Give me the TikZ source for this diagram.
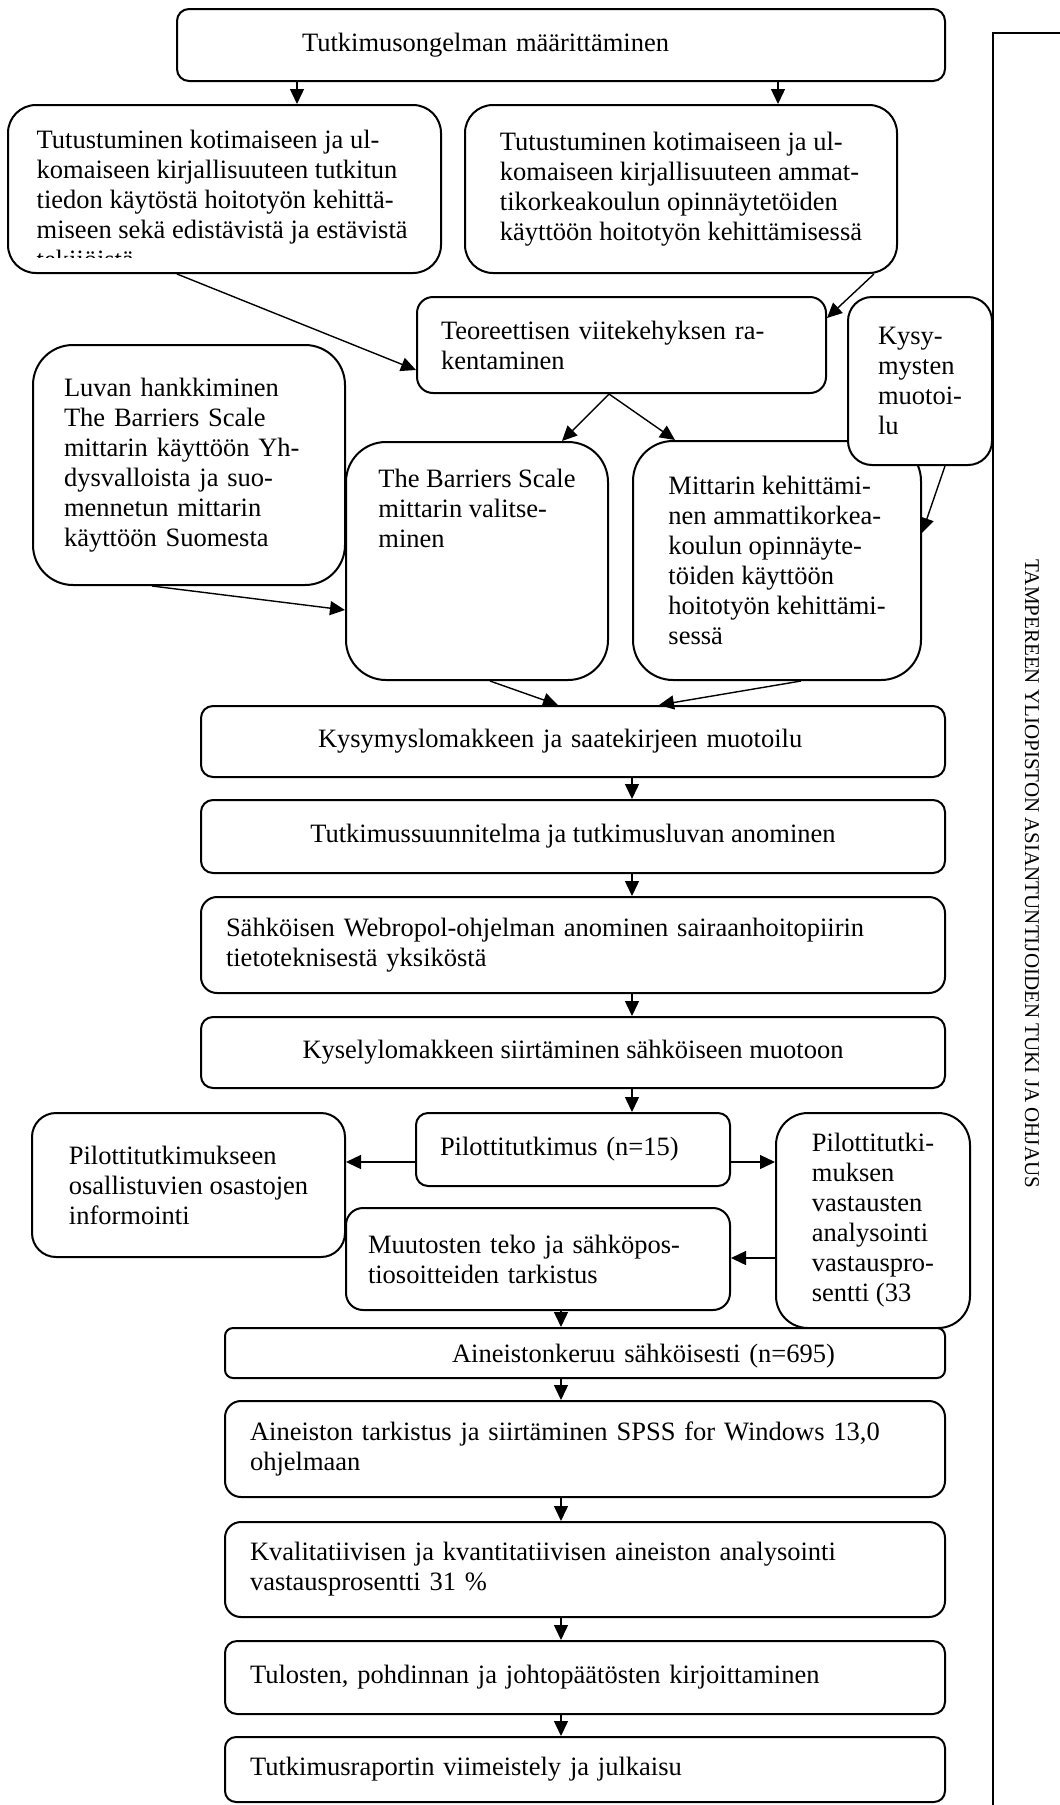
\documentclass[tikz,border=0pt]{standalone}
\usepackage{fontspec}
\setmainfont{Liberation Serif}
\usetikzlibrary{arrows.meta}

\begin{document}
\begin{tikzpicture}[x=1pt, y=-1pt,
    box/.style={draw, line width=2pt, fill=white, inner sep=0pt, align=left,
      font=\fontsize{26.5}{30}\selectfont},
    arr/.style={line width=1.4pt, -{Triangle[length=15pt,width=14pt]}}]
  \useasboundingbox (0,0) rectangle (1060,1805);

  % frame with the side text
  \draw[line width=2pt] (1075,33) -- (993,33) -- (993,1820);
  \node[rotate=-90, font=\fontsize{21}{25}\selectfont] (tuki) at (1032,874)
    {TAMPEREEN YLIOPISTON ASIANTUNTIJOIDEN TUKI JA OHJAUS};

  % upper part
  \node[box, rounded corners=12pt, minimum width=768pt, minimum height=72pt, text width=518pt] (prob) at (561,45) {Tutkimusongelman määrittäminen};
  \node[box, rounded corners=28pt, minimum width=433pt, minimum height=168pt] (litA) at (224.5,189) {};
  \begin{scope}
    \clip (8,105) rectangle (441,257);
    \node[anchor=north west, inner sep=0pt, align=left, font=\fontsize{26.5}{30}\selectfont] (litAtxt) at (36.5,130)
      {Tutustuminen kotimaiseen ja ul-\\komaiseen kirjallisuuteen tutkitun\\tiedon käytöstä hoitotyön kehittä-\\miseen sekä edistävistä ja estävistä\\tekijöistä};
  \end{scope}
  \node[box, rounded corners=28pt, minimum width=432pt, minimum height=168pt] (litB) at (681,189)
    {Tutustuminen kotimaiseen ja ul-\\komaiseen kirjallisuuteen ammat-\\tikorkeakoulun opinnäytetöiden\\käyttöön hoitotyön kehittämisessä};
  \node[box, rounded corners=16pt, minimum width=409pt, minimum height=96pt, text width=361pt] (teoria) at (621.5,345)
    {Teoreettisen viitekehyksen ra-\\kentaminen};
  \node[box, rounded corners=40pt, minimum width=312pt, minimum height=240pt, text width=250pt] (luvan) at (189,465)
    {Luvan hankkiminen\\The Barriers Scale\\mittarin käyttöön Yh-\\dysvalloista ja suo-\\mennetun mittarin\\käyttöön Suomesta};
  \node[box, rounded corners=40pt, minimum width=262pt, minimum height=238pt] (barr) at (477,561)
    {The Barriers Scale\\mittarin valitse-\\minen\\[66pt]\strut};
  \node[box, rounded corners=40pt, minimum width=288pt, minimum height=239pt] (mitt) at (777,560.5)
    {Mittarin kehittämi-\\nen ammattikorkea-\\koulun opinnäyte-\\töiden käyttöön\\hoitotyön kehittämi-\\sessä};
  \node[box, rounded corners=24pt, minimum width=144pt, minimum height=168pt] (kysym) at (920,381)
    {Kysy-\\mysten\\muotoi-\\lu};

  % main column
  \node[box, rounded corners=12pt, minimum width=744pt, minimum height=71pt, text width=510pt] (kyslom) at (573,741.5) {Kysymyslomakkeen ja saatekirjeen muotoilu};
  \node[box, rounded corners=12pt, minimum width=744pt, minimum height=73pt] (suunn) at (573,836.5) {Tutkimussuunnitelma ja tutkimusluvan anominen};
  \node[box, rounded corners=16pt, minimum width=744pt, minimum height=96pt, text width=694pt] (sahk) at (573,945)
    {Sähköisen Webropol-ohjelman anominen sairaanhoitopiirin\\tietoteknisestä yksiköstä};
  \node[box, rounded corners=12pt, minimum width=744pt, minimum height=71pt] (kysel) at (573,1052.5) {Kyselylomakkeen siirtäminen sähköiseen muotoon};

  % pilot
  \node[box, rounded corners=12pt, minimum width=314pt, minimum height=73pt, text width=266pt] (pilot) at (573,1149.5) {Pilottitutkimus (n=15)};
  \node[box, rounded corners=24pt, minimum width=313pt, minimum height=144pt] (info) at (188.5,1185)
    {Pilottitutkimukseen\\osallistuvien osastojen\\informointi};
  \node[box, rounded corners=17pt, minimum width=384pt, minimum height=102pt, text width=340pt] (muut) at (538,1259)
    {Muutosten teko ja sähköpos-\\tiosoitteiden tarkistus};
  \node[box, rounded corners=32pt, minimum width=194pt, minimum height=215pt] (anal) at (873,1220.5)
    {Pilottitutki-\\muksen\\vastausten\\analysointi\\vastauspro-\\sentti (33};

  % data part
  \node[box, rounded corners=8pt, minimum width=720pt, minimum height=50pt, text width=500pt, text depth=0pt, align=right] (keruu) at (585,1353) {Aineistonkeruu sähköisesti (n=695)};
  \node[box, rounded corners=16pt, minimum width=720pt, minimum height=96pt, text width=670pt] (tark) at (585,1449)
    {Aineiston tarkistus ja siirtäminen SPSS for Windows 13,0\\ohjelmaan};
  \node[box, rounded corners=16pt, minimum width=720pt, minimum height=95pt, text width=670pt] (kval) at (585,1569.5)
    {Kvalitatiivisen ja kvantitatiivisen aineiston analysointi\\vastausprosentti 31 \%};
  \node[box, rounded corners=12pt, minimum width=720pt, minimum height=73pt, text width=670pt] (tulos) at (585,1677.5) {Tulosten, pohdinnan ja johtopäätösten kirjoittaminen};
  \node[box, rounded corners=11pt, minimum width=720pt, minimum height=65pt, text width=670pt] (rap) at (585,1769.5) {Tutkimusraportin viimeistely ja julkaisu};

  % arrows
  \draw[arr] (prob.south -| 297,0) -- (litA.north -| 297,0);
  \draw[arr] (prob.south -| 778,0) -- (litB.north -| 778,0);
  \draw[arr] (litA.south -| 177,0) -- (teoria.west |- 0,370);
  \draw[arr] (litB.south -| 874,0) -- (teoria.east |- 0,318);
  \draw[arr] (teoria.south -| 609,0) -- (barr.north -| 562,0);
  \draw[arr] (teoria.south -| 609,0) -- (mitt.north -| 675,0);
  \draw[arr] (kysym.south -| 945,0) -- (mitt.east |- 0,533);
  \draw[arr] (luvan.south -| 152,0) -- (barr.west |- 0,610);
  \draw[arr] (barr.south -| 490,0) -- (kyslom.north -| 558,0);
  \draw[arr] (mitt.south -| 801,0) -- (kyslom.north -| 659,0);
  \draw[arr] (kyslom.south -| 632,0) -- (suunn.north -| 632,0);
  \draw[arr] (suunn.south -| 632,0) -- (sahk.north -| 632,0);
  \draw[arr] (sahk.south -| 632,0) -- (kysel.north -| 632,0);
  \draw[arr] (kysel.south -| 632,0) -- (pilot.north -| 632,0);
  \draw[arr] (pilot.west |- 0,1162) -- (info.east |- 0,1162);
  \draw[arr] (pilot.east |- 0,1162) -- (anal.west |- 0,1162);
  \draw[arr] (anal.west |- 0,1258) -- (muut.east |- 0,1258);
  \draw[arr] (muut.south -| 561,0) -- (keruu.north -| 561,0);
  \draw[arr] (keruu.south -| 561,0) -- (tark.north -| 561,0);
  \draw[arr] (tark.south -| 561,0) -- (kval.north -| 561,0);
  \draw[arr] (kval.south -| 561,0) -- (tulos.north -| 561,0);
  \draw[arr] (tulos.south -| 561,0) -- (rap.north -| 561,0);
\end{tikzpicture}
\end{document}
